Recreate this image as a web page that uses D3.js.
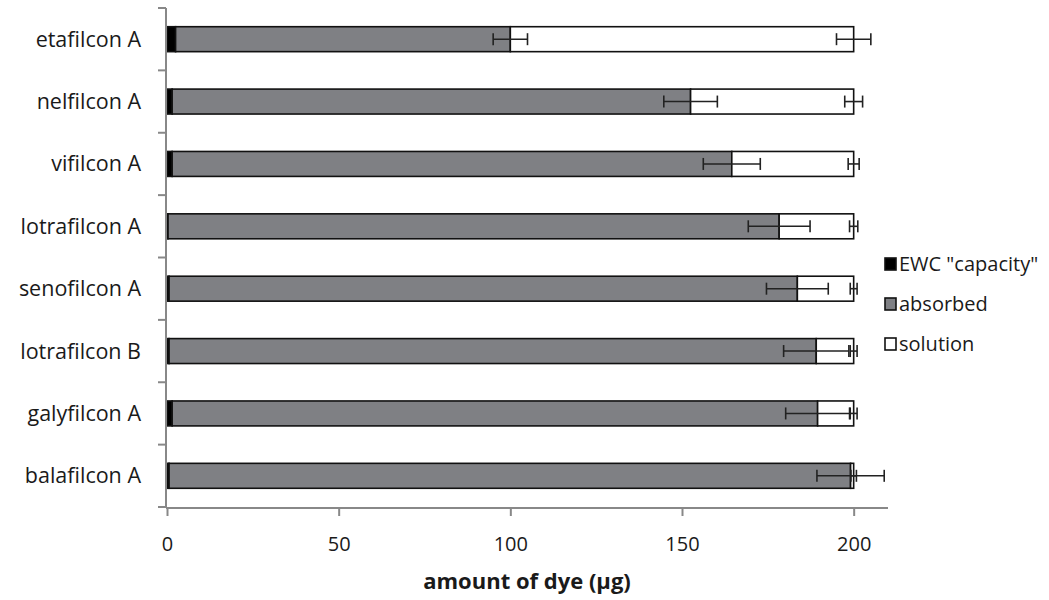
<!DOCTYPE html>
<html>
<head>
<meta charset="utf-8">
<script src="https://cdn.jsdelivr.net/npm/d3@7"></script>
<style>
  body { margin: 0; background: #fff; }
  text { font-family: "Open Sans", Lato, sans-serif; fill: #1a1a1a; }
</style>
</head>
<body>
<svg id="chart" width="1049" height="600"></svg>
<script>
  'use strict';

  var categories = ['etafilcon A', 'nelfilcon A', 'vifilcon A', 'lotrafilcon A',
    'senofilcon A', 'lotrafilcon B', 'galyfilcon A', 'balafilcon A'];

  // segments (stacked, µg)
  var ewc = [2.5, 1.5, 1.5, 0.3, 0.6, 0.6, 1.5, 0.6];
  var absorbed = [97.5, 151, 163, 178, 183, 188.5, 188, 198.5];
  var solution = [100, 47.5, 35.5, 21.7, 16.4, 10.9, 10.5, 0.9];

  // error bars (±) at end of absorbed and at total
  var absorbedErr = [5, 7.8, 8.3, 9, 9, 9.5, 9.3, 9.8];
  var totalErr = [5, 2.6, 1.6, 1.2, 1, 1, 1, 0.8];

  var seriesNames = ['EWC "capacity"', 'absorbed', 'solution'];
  var seriesColors = ['#000000', '#7f8084', '#ffffff'];
  var xTicks = [0, 50, 100, 150, 200];

  var svg = d3.select('#chart');

  var x = d3.scaleLinear().domain([0, 210]).range([167, 888]);
  var y = d3.scaleBand().domain(categories).range([8, 507]).paddingInner(0.6).paddingOuter(0.3);
  var band = d3.scaleBand().domain(categories).range([8, 507]);

  var rows = categories.map(function(name, i) {
    return { name: name, ewc: ewc[i], absorbed: absorbed[i], solution: solution[i] };
  });
  var stack = d3.stack().keys(['ewc', 'absorbed', 'solution'])(rows);

  // bars
  stack.forEach(function(layer, k) {
    svg.append('g').selectAll('rect')
      .data(layer)
      .enter().append('rect')
      .attr('x', function(d) { return x(d[0]); })
      .attr('y', function(d) { return y(d.data.name); })
      .attr('width', function(d) { return x(d[1]) - x(d[0]); })
      .attr('height', y.bandwidth())
      .attr('fill', seriesColors[k])
      .attr('stroke', '#111')
      .attr('stroke-width', 1.6);
  });

  // error bars
  var errors = [];
  rows.forEach(function(r, i) {
    errors.push({ name: r.name, v: r.ewc + r.absorbed, e: absorbedErr[i] });
    errors.push({ name: r.name, v: r.ewc + r.absorbed + r.solution, e: totalErr[i] });
  });
  var eg = svg.append('g').attr('stroke', '#222').attr('stroke-width', 1.6);
  errors.forEach(function(d) {
    var cy = y(d.name) + y.bandwidth() / 2;
    eg.append('line').attr('x1', x(d.v - d.e)).attr('x2', x(d.v + d.e)).attr('y1', cy).attr('y2', cy);
    [d.v - d.e, d.v + d.e].forEach(function(v) {
      eg.append('line').attr('x1', x(v)).attr('x2', x(v)).attr('y1', cy - 6).attr('y2', cy + 6);
    });
  });

  // y axis
  var yAxis = svg.append('g').attr('stroke', '#888').attr('stroke-width', 2);
  yAxis.append('line').attr('x1', x(0) - 1).attr('x2', x(0) - 1).attr('y1', 8).attr('y2', 508);
  categories.concat(['end']).forEach(function(c, i) {
    var ty = i < categories.length ? band(c) : band(categories[categories.length - 1]) + band.bandwidth();
    yAxis.append('line').attr('x1', x(0) - 9).attr('x2', x(0) - 1).attr('y1', ty).attr('y2', ty);
  });
  svg.append('g').selectAll('text')
    .data(categories)
    .enter().append('text')
    .attr('x', 141)
    .attr('y', function(d) { return y(d) + y.bandwidth() / 2; })
    .attr('dy', '0.35em')
    .attr('text-anchor', 'end')
    .style('font-size', '21.5px')
    .text(function(d) { return d; });

  // x axis
  var xAxis = svg.append('g').attr('transform', 'translate(0,508)')
    .call(d3.axisBottom(x).tickValues(xTicks).tickSize(8).tickPadding(21));
  xAxis.select('.domain').attr('stroke', '#888').attr('stroke-width', 2)
    .attr('d', 'M' + (x(0) - 1) + ',0H888');
  xAxis.selectAll('.tick line').attr('stroke', '#888').attr('stroke-width', 2);
  xAxis.selectAll('.tick text').style('font-size', '20px')
    .style('font-family', '"Open Sans", sans-serif').attr('fill', '#1a1a1a');

  svg.append('text')
    .attr('x', 527)
    .attr('y', 589)
    .attr('text-anchor', 'middle')
    .style('font-size', '22px')
    .style('font-weight', 'bold')
    .text('amount of dye (\u00b5g)');

  // legend
  var legend = svg.append('g');
  seriesNames.forEach(function(name, i) {
    var ly = 264 + i * 40;
    legend.append('rect')
      .attr('x', 885).attr('y', ly - 6).attr('width', 11).attr('height', 12)
      .attr('fill', seriesColors[i]).attr('stroke', '#111').attr('stroke-width', 1.6);
    legend.append('text')
      .attr('x', 899).attr('y', ly).attr('dy', '0.35em')
      .style('font-size', '20px')
      .text(name);
  });
</script>
</body>
</html>
